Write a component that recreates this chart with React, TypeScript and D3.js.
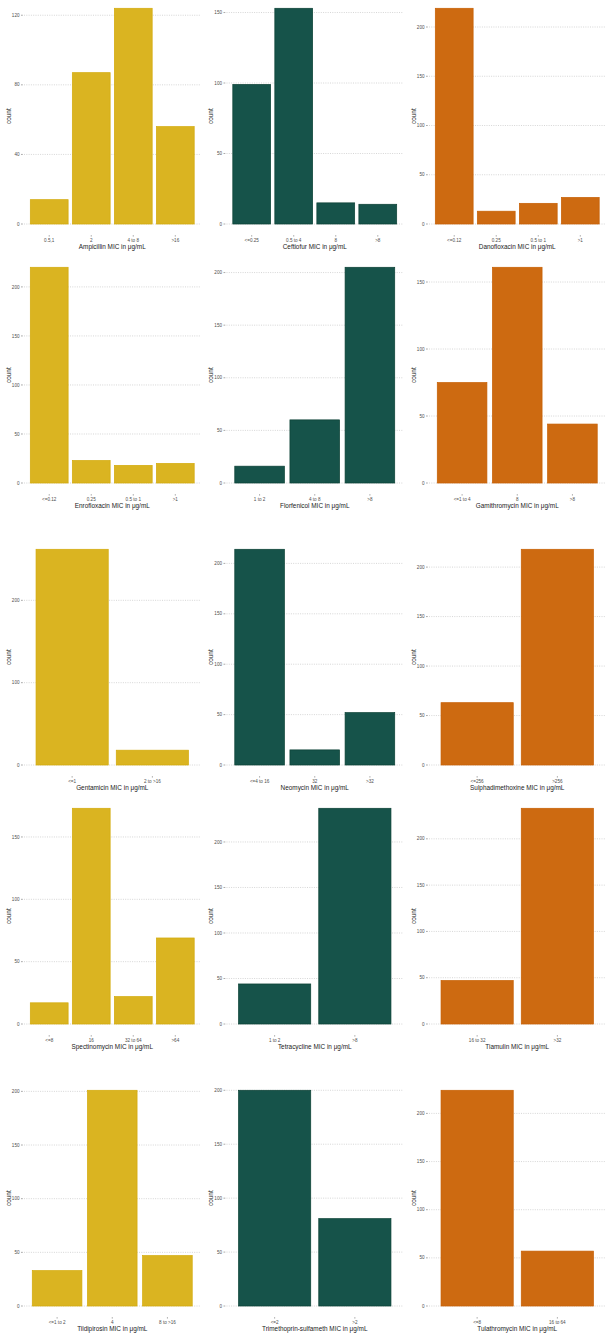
import React from 'react';
import * as d3 from 'd3';

// one panel per antibiotic, read row by row (3 per row)
const antibiotics = [
    'Ampicillin', 'Ceftiofur', 'Danofloxacin',
    'Enrofloxacin', 'Florfenicol', 'Gamithromycin',
    'Gentamicin', 'Neomycin', 'Sulphadimethoxine',
    'Spectinomycin', 'Tetracycline', 'Tiamulin',
    'Tildipirosin', 'Trimethoprin-sulfameth', 'Tulathromycin',
];

const categories = [
    ['0.5,1', '2', '4 to 8', '>16'],
    ['<=0.25', '0.5 to 4', '8', '>8'],
    ['<=0.12', '0.25', '0.5 to 1', '>1'],
    ['<=0.12', '0.25', '0.5 to 1', '>1'],
    ['1 to 2', '4 to 8', '>8'],
    ['<=1 to 4', '8', '>8'],
    ['<=1', '2 to >16'],
    ['<=4 to 16', '32', '>32'],
    ['<=256', '>256'],
    ['<=8', '16', '32 to 64', '>64'],
    ['1 to 2', '>8'],
    ['16 to 32', '>32'],
    ['<=1 to 2', '4', '8 to >16'],
    ['<=2', '>2'],
    ['<=8', '16 to 64'],
];

const counts = [
    [14, 87, 124, 56],
    [99, 153, 15, 14],
    [219, 13, 21, 27],
    [220, 23, 18, 20],
    [16, 60, 205],
    [75, 161, 44],
    [262, 18],
    [214, 15, 52],
    [63, 218],
    [17, 173, 22, 69],
    [44, 237],
    [47, 233],
    [33, 201, 47],
    [200, 81],
    [224, 57],
];

const yTicks = [
    [0, 40, 80, 120],
    [0, 50, 100, 150],
    [0, 50, 100, 150, 200],
    [0, 50, 100, 150, 200],
    [0, 50, 100, 150, 200],
    [0, 50, 100, 150],
    [0, 100, 200],
    [0, 50, 100, 150, 200],
    [0, 50, 100, 150, 200],
    [0, 50, 100, 150],
    [0, 50, 100, 150, 200],
    [0, 50, 100, 150, 200],
    [0, 50, 100, 150, 200],
    [0, 50, 100, 150, 200],
    [0, 50, 100, 150, 200],
];

const fills = ['#DAB421', '#16534A', '#CD6A11'];
const outlines = ['#D3AA0B', '#0B4034', '#C65F03'];

const width = 610;
const height = 1339;
const rowTops = [0, 259, 541, 800, 1082];
const colLefts = [24, 226.5, 429];
const plotW = 176.5;
const plotTop = -2.5;
const plotBottom = 234.8;
const font = '"Liberation Sans", Arial, Helvetica, sans-serif';

const Panel: React.FC<{ i: number }> = ({ i }) => {
    const row = Math.floor(i / 3);
    const col = i % 3;
    const cats = categories[i];
    const vals = counts[i];
    const maxV = d3.max(vals) || 0;

    const x = d3
        .scaleBand()
        .domain(cats)
        .range([0, plotW])
        .paddingInner(0.1)
        .paddingOuter(0.15);

    const y = d3
        .scaleLinear()
        .domain([-0.05 * maxV, 1.05 * maxV])
        .range([plotBottom, plotTop]);

    return (
        <g transform={`translate(${colLefts[col]},${rowTops[row]})`}>
            {yTicks[i].map((t) => (
                <g key={t}>
                    <line
                        x1={0}
                        x2={plotW}
                        y1={y(t)}
                        y2={y(t)}
                        stroke="#C4C4C4"
                        strokeWidth={0.7}
                        strokeDasharray="1 1.3"
                    />
                    <line
                        x1={-3}
                        x2={-1.2}
                        y1={y(t)}
                        y2={y(t)}
                        stroke="#555"
                        strokeWidth={0.5}
                    />
                    <text
                        x={-4.5}
                        y={y(t)}
                        dy="0.35em"
                        textAnchor="end"
                        fontSize={4.6}
                        fill="#4D4D4D"
                    >
                        {t}
                    </text>
                </g>
            ))}
            {cats.map((c, k) => (
                <rect
                    key={c}
                    x={x(c)!}
                    width={x.bandwidth()}
                    y={y(vals[k])}
                    height={y(0) - y(vals[k])}
                    fill={fills[col]}
                    stroke={outlines[col]}
                    strokeWidth={0.7}
                />
            ))}
            {cats.map((c) => (
                <g key={c} transform={`translate(${x(c)! + x.bandwidth() / 2},0)`}>
                    <line
                        y1={plotBottom + 0.3}
                        y2={plotBottom + 1.8}
                        stroke="#555"
                        strokeWidth={0.5}
                    />
                    <text
                        y={plotBottom + 6.8}
                        textAnchor="middle"
                        fontSize={4.6}
                        fill="#4D4D4D"
                    >
                        {c}
                    </text>
                </g>
            ))}
            <text
                x={plotW / 2}
                y={plotBottom + 14.2}
                textAnchor="middle"
                fontSize={6.4}
                fill="#1A1A1A"
            >
                {`${antibiotics[i]} MIC in μg/mL`}
            </text>
            <text
                transform={`translate(${-13.5},${(plotTop + plotBottom) / 2}) rotate(-90)`}
                textAnchor="middle"
                fontSize={6.4}
                fill="#1A1A1A"
            >
                count
            </text>
        </g>
    );
};

const App: React.FC = () => (
    <svg
        width={width}
        height={height}
        viewBox={`0 0 ${width} ${height}`}
        style={{ position: 'absolute', left: 0, top: 0, background: '#fff' }}
        fontFamily={font}
    >
        {antibiotics.map((_, i) => (
            <Panel key={i} i={i} />
        ))}
    </svg>
);

export default App;
